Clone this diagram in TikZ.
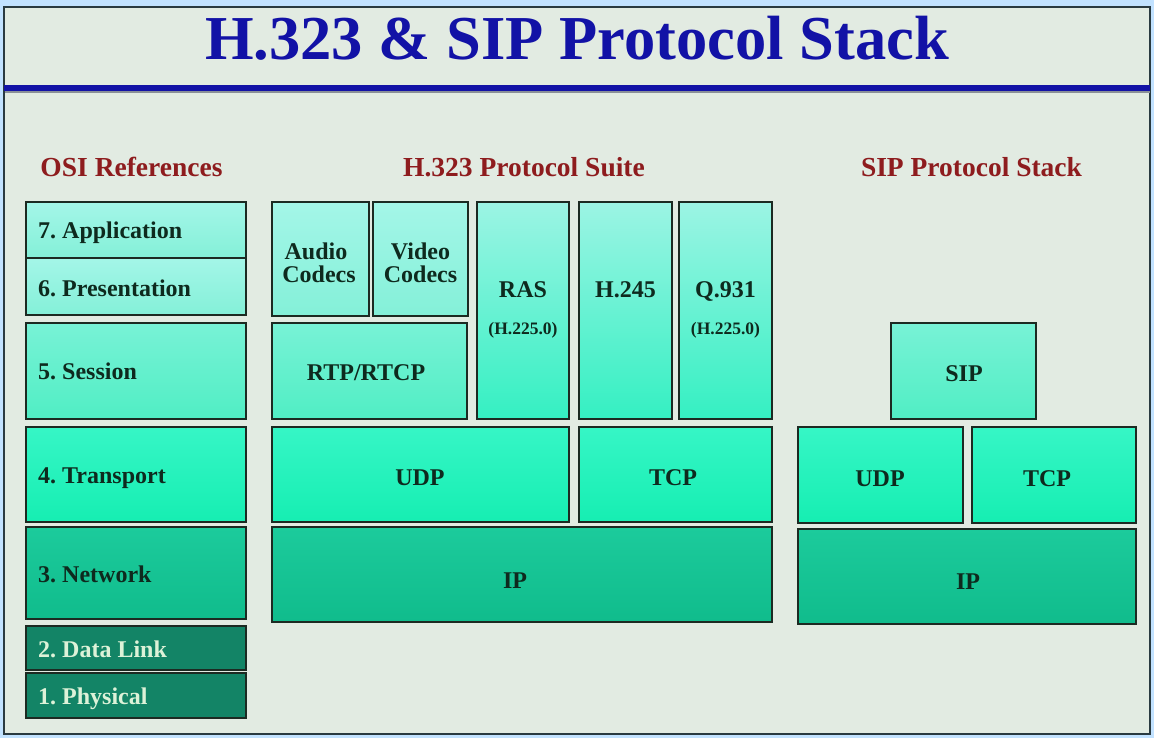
\documentclass[tikz,border=0pt]{standalone}
\usepackage{fontspec}
\setmainfont{Liberation Serif}
\frenchspacing
\definecolor{frameblue}{HTML}{C2E2FF}
\definecolor{framedark}{HTML}{2A3A40}
\definecolor{bgmint}{HTML}{E2EBE2}
\definecolor{titleblue}{HTML}{1212A6}
\definecolor{lineshadow}{HTML}{8A9098}
\definecolor{headred}{HTML}{8E1C1E}
\definecolor{boxline}{HTML}{1C2A22}
\definecolor{textdark}{HTML}{0E2A1E}
\definecolor{textpale}{HTML}{DDF2D8}
\definecolor{lightT}{HTML}{A4F6E8}
\definecolor{lightB}{HTML}{84F0D8}
\definecolor{sessT}{HTML}{78F2D6}
\definecolor{sessB}{HTML}{50EEC4}
\definecolor{tallT}{HTML}{9CF4E4}
\definecolor{tallB}{HTML}{34F0C2}
\definecolor{transT}{HTML}{36F6C6}
\definecolor{transB}{HTML}{16EEB2}
\definecolor{netT}{HTML}{1CCB9C}
\definecolor{netB}{HTML}{10BC8C}
\definecolor{darkG}{HTML}{138466}
\begin{document}
\begin{tikzpicture}[x=1pt,y=-1pt,
  box/.style={draw=boxline, line width=1.5pt, inner sep=0pt, outer sep=0pt, anchor=north west},
  lightbox/.style={box, top color=lightT, bottom color=lightB},
  sessbox/.style={box, top color=sessT, bottom color=sessB},
  tallbox/.style={box, top color=tallT, bottom color=tallB},
  transbox/.style={box, top color=transT, bottom color=transB},
  netbox/.style={box, top color=netT, bottom color=netB},
  darkbox/.style={box, fill=darkG},
  lbl/.style={font=\fontsize{24}{24}\selectfont\bfseries, text=textdark, inner sep=0pt, anchor=base},
  osilbl/.style={lbl, anchor=base west},
  sublbl/.style={font=\fontsize{17.5}{18}\selectfont\bfseries, text=textdark, inner sep=0pt, anchor=base},
  heading/.style={font=\fontsize{27.5}{28}\selectfont\bfseries, text=headred, inner sep=0pt, anchor=base},
  titletxt/.style={font=\fontsize{62.5}{64}\selectfont\bfseries, inner sep=0pt, anchor=base}
]
\useasboundingbox (0,0) rectangle (1154,738);
\fill[frameblue] (0,0) rectangle (1154,738);
\fill[bgmint, draw=framedark, line width=1.2pt] (4,7) rectangle (1150,734);

% title
\node[titletxt, text=titleblue] (title) at (577,60) {H.323 \& SIP Protocol Stack};
\fill[lineshadow] (5,88) rectangle (1150,93.5);
\fill[titleblue] (4,85.5) rectangle (1150,91.5);

% headings
\node[heading] (hosi) at (131.5,177) {OSI References};
\node[heading] (hh323) at (524,177) {H.323 Protocol Suite};
\node[heading] (hsip) at (971.5,177) {SIP Protocol Stack};

% OSI column
\node[lightbox, minimum width=220pt, minimum height=56pt] (app) at (26,202) {};
\node[lightbox, minimum width=220pt, minimum height=57pt] (pres) at (26,258) {};
\node[sessbox, minimum width=220pt, minimum height=96pt] (sess) at (26,323) {};
\node[transbox, minimum width=220pt, minimum height=95pt] (trans) at (26,427) {};
\node[netbox, minimum width=220pt, minimum height=92pt] (net) at (26,527) {};
\node[darkbox, minimum width=220pt, minimum height=44pt] (dl) at (26,626) {};
\node[darkbox, minimum width=220pt, minimum height=45pt] (phy) at (26,673) {};

\node[osilbl] (tapp) at (38,239) {7. Application};
\node[osilbl] (tpres) at (38,296) {6. Presentation};
\node[osilbl] (tsess) at (38,379.5) {5. Session};
\node[osilbl] (ttrans) at (38,483) {4. Transport};
\node[osilbl] (tnet) at (38,582) {3. Network};
\node[osilbl, text=textpale] (tdl) at (38,657) {2. Data Link};
\node[osilbl, text=textpale] (tphy) at (38,704) {1. Physical};

% H.323 suite
\node[lightbox, minimum width=97pt, minimum height=114pt] (audio) at (272,202) {};
\node[lightbox, minimum width=95pt, minimum height=114pt] (video) at (373,202) {};
\node[sessbox, minimum width=195pt, minimum height=96pt] (rtp) at (272,323) {};
\node[tallbox, minimum width=92pt, minimum height=217pt] (ras) at (477,202) {};
\node[tallbox, minimum width=93pt, minimum height=217pt] (h245) at (579,202) {};
\node[tallbox, minimum width=93pt, minimum height=217pt] (q931) at (679,202) {};
\node[transbox, minimum width=297pt, minimum height=95pt] (udp) at (272,427) {};
\node[transbox, minimum width=193pt, minimum height=95pt] (tcp) at (579,427) {};
\node[netbox, minimum width=500pt, minimum height=95pt] (ip) at (272,527) {};

\node[lbl] (taudio1) at (316,259) {Audio};
\node[lbl] (taudio2) at (319,283) {Codecs};
\node[lbl] (tvideo1) at (420.5,259) {Video};
\node[lbl] (tvideo2) at (420.5,283) {Codecs};
\node[lbl] (trtp) at (366,380) {RTP/RTCP};
\node[lbl] (tras) at (523,298) {RAS};
\node[sublbl] (tras2) at (523,334) {(H.225.0)};
\node[lbl] (th245) at (625.5,298) {H.245};
\node[lbl] (tq931) at (725.5,298) {Q.931};
\node[sublbl] (tq9312) at (725.5,334) {(H.225.0)};
\node[lbl] (tudp) at (420,485) {UDP};
\node[lbl] (ttcp) at (673,485) {TCP};
\node[lbl] (tip) at (515,588) {IP};

% SIP stack
\node[sessbox, minimum width=145pt, minimum height=96pt] (sip) at (891,323) {};
\node[transbox, minimum width=165pt, minimum height=96pt] (sudp) at (798,427) {};
\node[transbox, minimum width=164pt, minimum height=96pt] (stcp) at (972,427) {};
\node[netbox, minimum width=338pt, minimum height=95pt] (sip-ip) at (798,529) {};

\node[lbl] (tsip) at (964,381.5) {SIP};
\node[lbl] (tsudp) at (880,486.5) {UDP};
\node[lbl] (tstcp) at (1047,486.5) {TCP};
\node[lbl] (tsipip) at (968,589) {IP};
\end{tikzpicture}
\end{document}
